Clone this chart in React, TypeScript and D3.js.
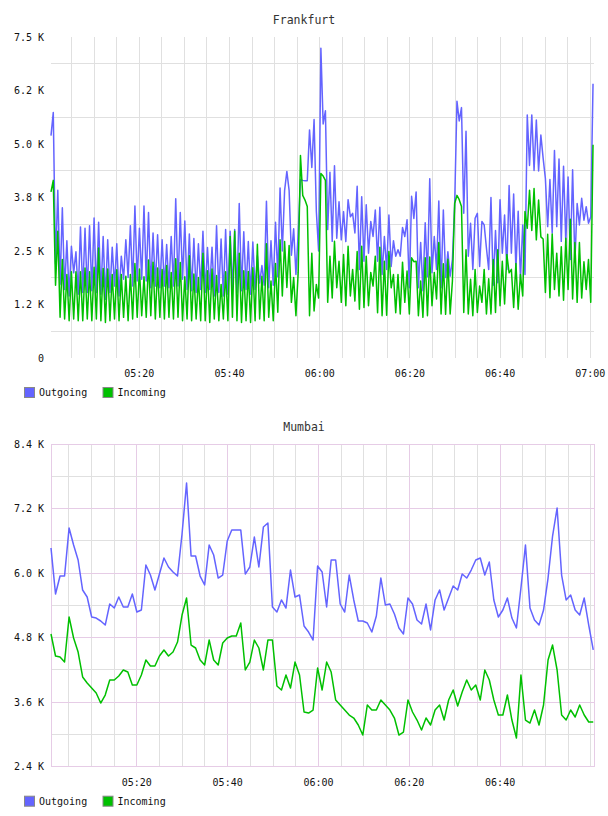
import React from "react";
import * as d3 from "d3";

// ---- Frankfurt: 30-second samples, 05:00 .. 07:00 ----
const fraOutgoing = [
  5195, 5736, 2200, 3920, 1720, 3510, 1600, 2740, 1450, 2610, 1990, 2480, 1490, 3060, 1530, 3030, 1530, 3090, 1570, 3270,
  1530, 3170, 1490, 2840, 1370, 2760, 1530, 2590, 1680, 2670, 1450, 2380, 1840, 2760, 1880, 3090, 1680, 3550, 1800, 3030,
  1840, 3550, 1800, 3400, 1640, 2920, 1680, 2880, 1640, 2760, 1680, 2650, 1640, 2840, 1680, 3720, 1680, 3400, 1840, 3200,
  1600, 2900, 1570, 2790, 1530, 2670, 1600, 2960, 1530, 2580, 1600, 2590, 1450, 3090, 1530, 2780, 1450, 3000, 1490, 2960,
  1600, 3000, 1530, 3610, 1570, 2950, 1600, 2720, 1490, 2710, 1600, 2390, 1750, 2160, 1700, 3660, 1640, 2740, 1700, 3170,
  1900, 3970, 2500, 3910, 4360, 3910, 2400, 3020, 1950, 2920, 4170, 4150, 4140, 4140, 5330, 4450, 5570, 3430, 2500, 7240,
  5470, 5775, 3000, 4340, 2725, 4490, 2800, 3650, 2760, 3420, 2720, 3700, 3300, 3380, 2920, 4010, 2070, 3770, 2260, 3580,
  2450, 3190, 2840, 3460, 2260, 3520, 1950, 2840, 2070, 3340, 2140, 2740, 2380, 2530, 2380, 3050, 2840, 3230, 1640, 3780,
  3260, 3880, 1640, 2700, 1570, 3160, 1900, 4190, 1990, 2840, 2070, 3670, 1640, 3460, 1880, 2480, 1910, 2300, 3600, 6000,
  5540, 5850, 3380, 5300, 2380, 3150, 2070, 3265, 3380, 2140, 3190, 3110, 2570, 2070, 3750, 1700, 2980, 1760, 3700, 2450,
  3340, 2070, 4030, 2450, 3830, 2070, 3430, 1840, 3110, 1950, 5680, 4500, 5680, 4380, 5560, 4370, 5210, 4670, 4190, 3070,
  4170, 2920, 4850, 3070, 4650, 2725, 4480, 2690, 4230, 2300, 4400, 2240, 3610, 3110, 3730, 3220, 3535, 3150, 3300, 6410,
];

const fraIncoming = [
  3880, 4150, 1700, 2960, 950, 2300, 910, 1950, 870, 2015, 910, 2015, 870, 2015, 870, 2100, 910, 2015, 870, 2120,
  910, 2570, 870, 2090, 830, 2080, 870, 1950, 910, 2060, 870, 1950, 950, 1910, 870, 1950, 910, 2210, 950, 2080,
  990, 1900, 950, 2290, 990, 2240, 910, 2100, 950, 2070, 910, 2160, 950, 2000, 910, 2320, 950, 2230, 870, 1900,
  910, 2390, 870, 1960, 910, 1880, 870, 2450, 870, 2040, 830, 2080, 910, 1930, 870, 1720, 910, 2015, 870, 2840,
  950, 2960, 870, 2450, 830, 2040, 870, 2020, 830, 2110, 870, 2660, 910, 1910, 870, 2670, 950, 1800, 870, 2210,
  1070, 2760, 1450, 2720, 1650, 2630, 1300, 1880, 990, 2000, 4730, 3800, 3690, 3540, 990, 2450, 1100, 1720, 1400, 4310,
  4250, 4150, 1300, 2380, 1400, 2725, 1640, 2260, 1300, 2420, 1220, 2610, 1450, 2070, 1330, 2490, 1140, 2610, 1180, 2380,
  1220, 2000, 1680, 2380, 1060, 2590, 990, 2260, 1000, 2490, 1640, 1950, 1060, 1950, 1030, 2240, 1300, 2030, 1030, 2340,
  2250, 2260, 990, 1800, 950, 2340, 990, 2360, 1220, 2000, 1380, 2700, 1030, 2200, 1020, 2310, 1030, 1800, 3610, 3800,
  3700, 3540, 1065, 2530, 1030, 1840, 990, 2070, 1065, 1680, 1300, 2070, 1030, 1850, 1030, 2300, 1065, 2530, 1220, 2260,
  1260, 2420, 1990, 2070, 1180, 2210, 1140, 1950, 1450, 3420, 3030, 3920, 2980, 3960, 2760, 3690, 2830, 2780, 1530, 2890,
  1410, 2900, 1600, 2450, 1450, 2600, 1350, 2800, 1600, 3240, 1380, 2700, 1300, 2700, 1400, 2250, 1600, 2300, 1300, 4980,
];

// ---- Mumbai: 1-minute samples ----
const mumOutgoing = [
  6466, 5611, 5945, 5945, 6837, 6521, 6243, 5685, 5555, 5183, 5164, 5109, 5034, 5425, 5350, 5555, 5369, 5369, 5611, 5276,
  5313, 6150, 5964, 5685, 5983, 6280, 6113, 6020, 5945, 6726, 7674, 6317, 6317, 5945, 5778, 6521, 6336, 5908, 5964, 6596,
  6800, 6800, 6800, 5982, 6113, 6670, 6113, 6856, 6930, 5369, 5276, 5500, 5350, 6057, 5555, 5592, 5016, 4904, 4755, 6131,
  6020, 5369, 6243, 6243, 5425, 5276, 5964, 5500, 5109, 5109, 5072, 4904, 5202, 5908, 5406, 5425, 5239, 4979, 4867, 5536,
  5425, 5128, 5053, 5425, 4942, 5500, 5685, 5313, 5536, 5759, 5685, 5982, 5908, 6057, 6243, 6280, 5964, 6206, 5500, 5183,
  5313, 5536, 5164, 4979, 5722, 6521, 5350, 5128, 5034, 5313, 5908, 6689, 7210, 5964, 5500, 5592, 5313, 5220, 5536, 5034,
  4570,
];

const mumIncoming = [
  4867, 4458, 4439, 4346, 5183, 4793, 4532, 4068, 3956, 3863, 3770, 3584, 3733, 4012, 4012, 4086, 4198, 4160, 3919, 3919,
  4105, 4384, 4272, 4272, 4458, 4570, 4458, 4532, 4718, 5220, 5536, 4662, 4607, 4384, 4291, 4755, 4384, 4291, 4700, 4793,
  4830, 4830, 5072, 4198, 4346, 4755, 4607, 4198, 4755, 4755, 3900, 3826, 4105, 3863, 4346, 4105, 3417, 3398, 3454, 4235,
  3826, 4346, 4160, 3640, 3547, 3454, 3361, 3305, 3175, 2989, 3547, 3454, 3454, 3640, 3547, 3454, 3305, 2989, 3045, 3640,
  3417, 3268, 3082, 3305, 3175, 3454, 3547, 3268, 3640, 3826, 3528, 3789, 4012, 3826, 3919, 3640, 4198, 4012, 3640, 3361,
  3361, 3733, 3268, 2933, 4105, 3268, 3212, 3454, 3175, 3547, 4384, 4662, 4198, 3361, 3268, 3454, 3324, 3547, 3361, 3231,
  3231,
];

const seriesNames = ["Outgoing", "Incoming"];
const seriesColors = ["#6464ff", "#00c000"];

const timeLabels = ["05:20", "05:40", "06:00", "06:20", "06:40", "07:00"];
const fraTickValues = [0, 1250, 2500, 3750, 5000, 6250, 7500];
const fraTickLabels = ["0", "1.2 K", "2.5 K", "3.8 K", "5.0 K", "6.2 K", "7.5 K"];
const mumTickValues = [2400, 3600, 4800, 6000, 7200, 8400];
const mumTickLabels = ["2.4 K", "3.6 K", "4.8 K", "6.0 K", "7.2 K", "8.4 K"];

const FONT = "'DejaVu Sans Mono', monospace";

// minutes since midnight
const toMin = (s: string) => {
  const [h, m] = s.split(":").map(Number);
  return h * 60 + m;
};

type PanelProps = {
  title: string;
  top: number;
  height: number;
  domainMin: [number, number];
  dataSpan: [number, number];
  yDomain: [number, number];
  series: number[][];
  tickValues: number[];
  tickLabels: string[];
  gridValues: number[];
  majorGridColor: string;
  minorGridColor: string;
  frame: boolean;
  labels: string[];
};

const LEFT = 51;
const RIGHT = 594;

function Panel(p: PanelProps) {
  const x = d3.scaleLinear().domain(p.domainMin).range([LEFT, RIGHT]);
  const y = d3.scaleLinear().domain(p.yDomain).range([p.top + p.height, p.top]);
  const bottom = p.top + p.height;

  const minorTimes = d3.range(Math.ceil(p.domainMin[0] / 5) * 5, p.domainMin[1] + 0.01, 5);
  const majorTimes = p.labels.map(toMin);

  const line = (vals: number[]) => {
    const n = vals.length;
    const tx = d3.scaleLinear().domain([0, n - 1]).range(p.dataSpan);
    return d3
      .line<number>()
      .x((_, i) => x(tx(i)))
      .y((v) => y(v))(vals) as string;
  };

  const legendY = bottom + 29;

  return (
    <g>
      <text x={304} y={p.top - 13} textAnchor="middle" fontFamily={FONT} fontSize={11.5} fill="#333">
        {p.title}
      </text>
      {/* vertical grid */}
      {minorTimes.map((t) => {
        const isMajor = majorTimes.includes(t);
        return (
          <line
            key={"v" + t}
            x1={x(t)}
            x2={x(t)}
            y1={p.top}
            y2={bottom}
            stroke={isMajor ? p.majorGridColor : p.minorGridColor}
            strokeWidth={1}
            shapeRendering="crispEdges"
          />
        );
      })}
      {/* horizontal grid */}
      {p.gridValues.map((v) => {
        const isMajor = p.tickValues.includes(v);
        return (
          <line
            key={"h" + v}
            x1={LEFT}
            x2={RIGHT}
            y1={y(v)}
            y2={y(v)}
            stroke={isMajor ? p.majorGridColor : p.minorGridColor}
            strokeWidth={1}
            shapeRendering="crispEdges"
          />
        );
      })}
      {p.frame && (
        <rect
          x={LEFT}
          y={p.top}
          width={RIGHT - LEFT}
          height={p.height}
          fill="none"
          stroke={p.majorGridColor}
          strokeWidth={1}
          shapeRendering="crispEdges"
        />
      )}
      {/* series */}
      {p.series.map((vals, si) => (
        <path
          key={"s" + si}
          d={line(vals)}
          fill="none"
          stroke={seriesColors[si]}
          strokeWidth={1.5}
          strokeLinejoin="round"
        />
      ))}
      {/* y labels */}
      {p.tickValues.map((v, i) => (
        <text
          key={"yl" + v}
          x={44}
          y={y(v)}
          dy="0.35em"
          textAnchor="end"
          fontFamily={FONT}
          fontSize={10}
          fill="#111"
        >
          {p.tickLabels[i]}
        </text>
      ))}
      {/* x labels */}
      {p.labels.map((s) => (
        <text
          key={"xl" + s}
          x={x(toMin(s))}
          y={bottom + 19}
          textAnchor="middle"
          fontFamily={FONT}
          fontSize={10}
          fill="#111"
        >
          {s}
        </text>
      ))}
      {/* legend */}
      {seriesNames.map((name, i) => {
        const lx = 24 + i * 78.5;
        return (
          <g key={"lg" + name}>
            <rect
              x={lx + 0.5}
              y={legendY + 0.5}
              width={10}
              height={10}
              fill={seriesColors[i]}
              stroke="#888"
              strokeWidth={1}
            />
            <text x={lx + 15} y={legendY + 9} fontFamily={FONT} fontSize={10} fill="#111">
              {name}
            </text>
          </g>
        );
      })}
    </g>
  );
}

export default function App() {
  const fraDomain: [number, number] = [300 + 25 / 60, 420 + 49 / 60];
  const mumDomain: [number, number] = [301 + 6 / 60, 420 + 40 / 60];
  const fraGrid = d3.range(625, 7500, 1250);
  const mumGrid = d3.range(3000, 8400, 600).concat([2400, 8400]);
  return (
    <svg
      width={608}
      height={816}
      style={{ position: "absolute", left: 0, top: 0, background: "#fff" }}
    >
      <rect width={608} height={816} fill="#fff" />
      <Panel
        title="Frankfurt"
        top={37}
        height={321}
        domainMin={fraDomain}
        dataSpan={[fraDomain[0], 420.6]}
        yDomain={[0, 7500]}
        series={[fraOutgoing, fraIncoming]}
        tickValues={fraTickValues}
        tickLabels={fraTickLabels}
        gridValues={fraGrid}
        majorGridColor="#e0e0e0"
        minorGridColor="#e0e0e0"
        frame={false}
        labels={timeLabels}
      />
      <Panel
        title="Mumbai"
        top={444}
        height={322.7}
        domainMin={mumDomain}
        dataSpan={[mumDomain[0], 420.5]}
        yDomain={[2400, 8400]}
        series={[mumOutgoing, mumIncoming]}
        tickValues={mumTickValues}
        tickLabels={mumTickLabels}
        gridValues={mumGrid}
        majorGridColor="#e6cce6"
        minorGridColor="#e0e0e0"
        frame={true}
        labels={timeLabels.slice(0, 5)}
      />
    </svg>
  );
}
